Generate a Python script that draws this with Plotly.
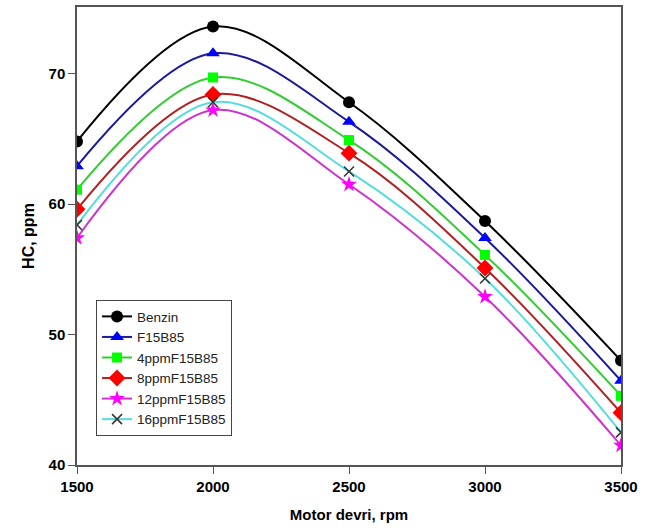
import plotly.graph_objects as go

rpm = [1500, 2000, 2500, 3000, 3500]
benzin = [64.8, 73.6, 67.8, 58.7, 48.0]
f15b85 = [62.9, 71.55, 66.3, 57.4, 46.45]
ppm4 = [61.1, 69.7, 64.9, 56.1, 45.3]
ppm8 = [59.6, 68.4, 63.9, 55.1, 44.0]
ppm12 = [57.4, 67.2, 61.5, 52.9, 41.5]
ppm16 = [58.4, 67.8, 62.5, 54.3, 42.5]

series = [
    ("Benzin", benzin, "#000000", "#000000", "circle", 12),
    ("F15B85", f15b85, "#1a1a9a", "#0000ff", "triangle-up", 12),
    ("4ppmF15B85", ppm4, "#33cc33", "#00ff00", "square", 10),
    ("8ppmF15B85", ppm8, "#b02020", "#ff0000", "diamond", 13),
    ("12ppmF15B85", ppm12, "#cc33cc", "#ff00ff", "star", 12),
    ("16ppmF15B85", ppm16, "#55dddd", "#333333", "x-thin", 10),
]

fig = go.Figure()
for name, vals, lc, mc, sym, sz in series:
    marker = dict(symbol=sym, size=sz, color=mc)
    if sym == "x-thin":
        marker["line"] = dict(color=mc, width=1.5)
    fig.add_trace(go.Scatter(
        x=rpm, y=vals, name=name, mode="lines+markers",
        line=dict(color=lc, width=2, shape="spline", smoothing=1.0),
        marker=marker,
    ))

fig.update_layout(
    width=655, height=532,
    margin=dict(l=77, r=34, t=5, b=67),
    paper_bgcolor="white", plot_bgcolor="white",
    font=dict(family="Liberation Sans, Arial, sans-serif", color="#000000"),
    showlegend=True,
    legend=dict(
        x=0.035, y=0.36, xanchor="left", yanchor="top",
        bordercolor="#444444", borderwidth=1, bgcolor="white",
        font=dict(size=13.5, color="#222222"),
        tracegroupgap=0,
    ),
)
fig.update_xaxes(
    range=[1500, 3500], tickvals=[1500, 2000, 2500, 3000, 3500],
    showgrid=False, zeroline=False,
    showline=True, linecolor="#555555", linewidth=1.5, mirror=True,
    ticks="outside", ticklen=7, tickcolor="#555555",
    tickfont=dict(size=15, weight="bold"),
    title=dict(text="<b>Motor devri, rpm</b>", font=dict(size=15), standoff=16),
)
fig.update_yaxes(
    range=[40, 75.1], tickvals=[40, 50, 60, 70],
    showgrid=False, zeroline=False,
    showline=True, linecolor="#555555", linewidth=1.5, mirror=True,
    ticks="outside", ticklen=7, tickcolor="#555555",
    tickfont=dict(size=15, weight="bold"),
    title=dict(text="<b>HC, ppm</b>", font=dict(size=16), standoff=10),
)

fig.write_html("out.html")
